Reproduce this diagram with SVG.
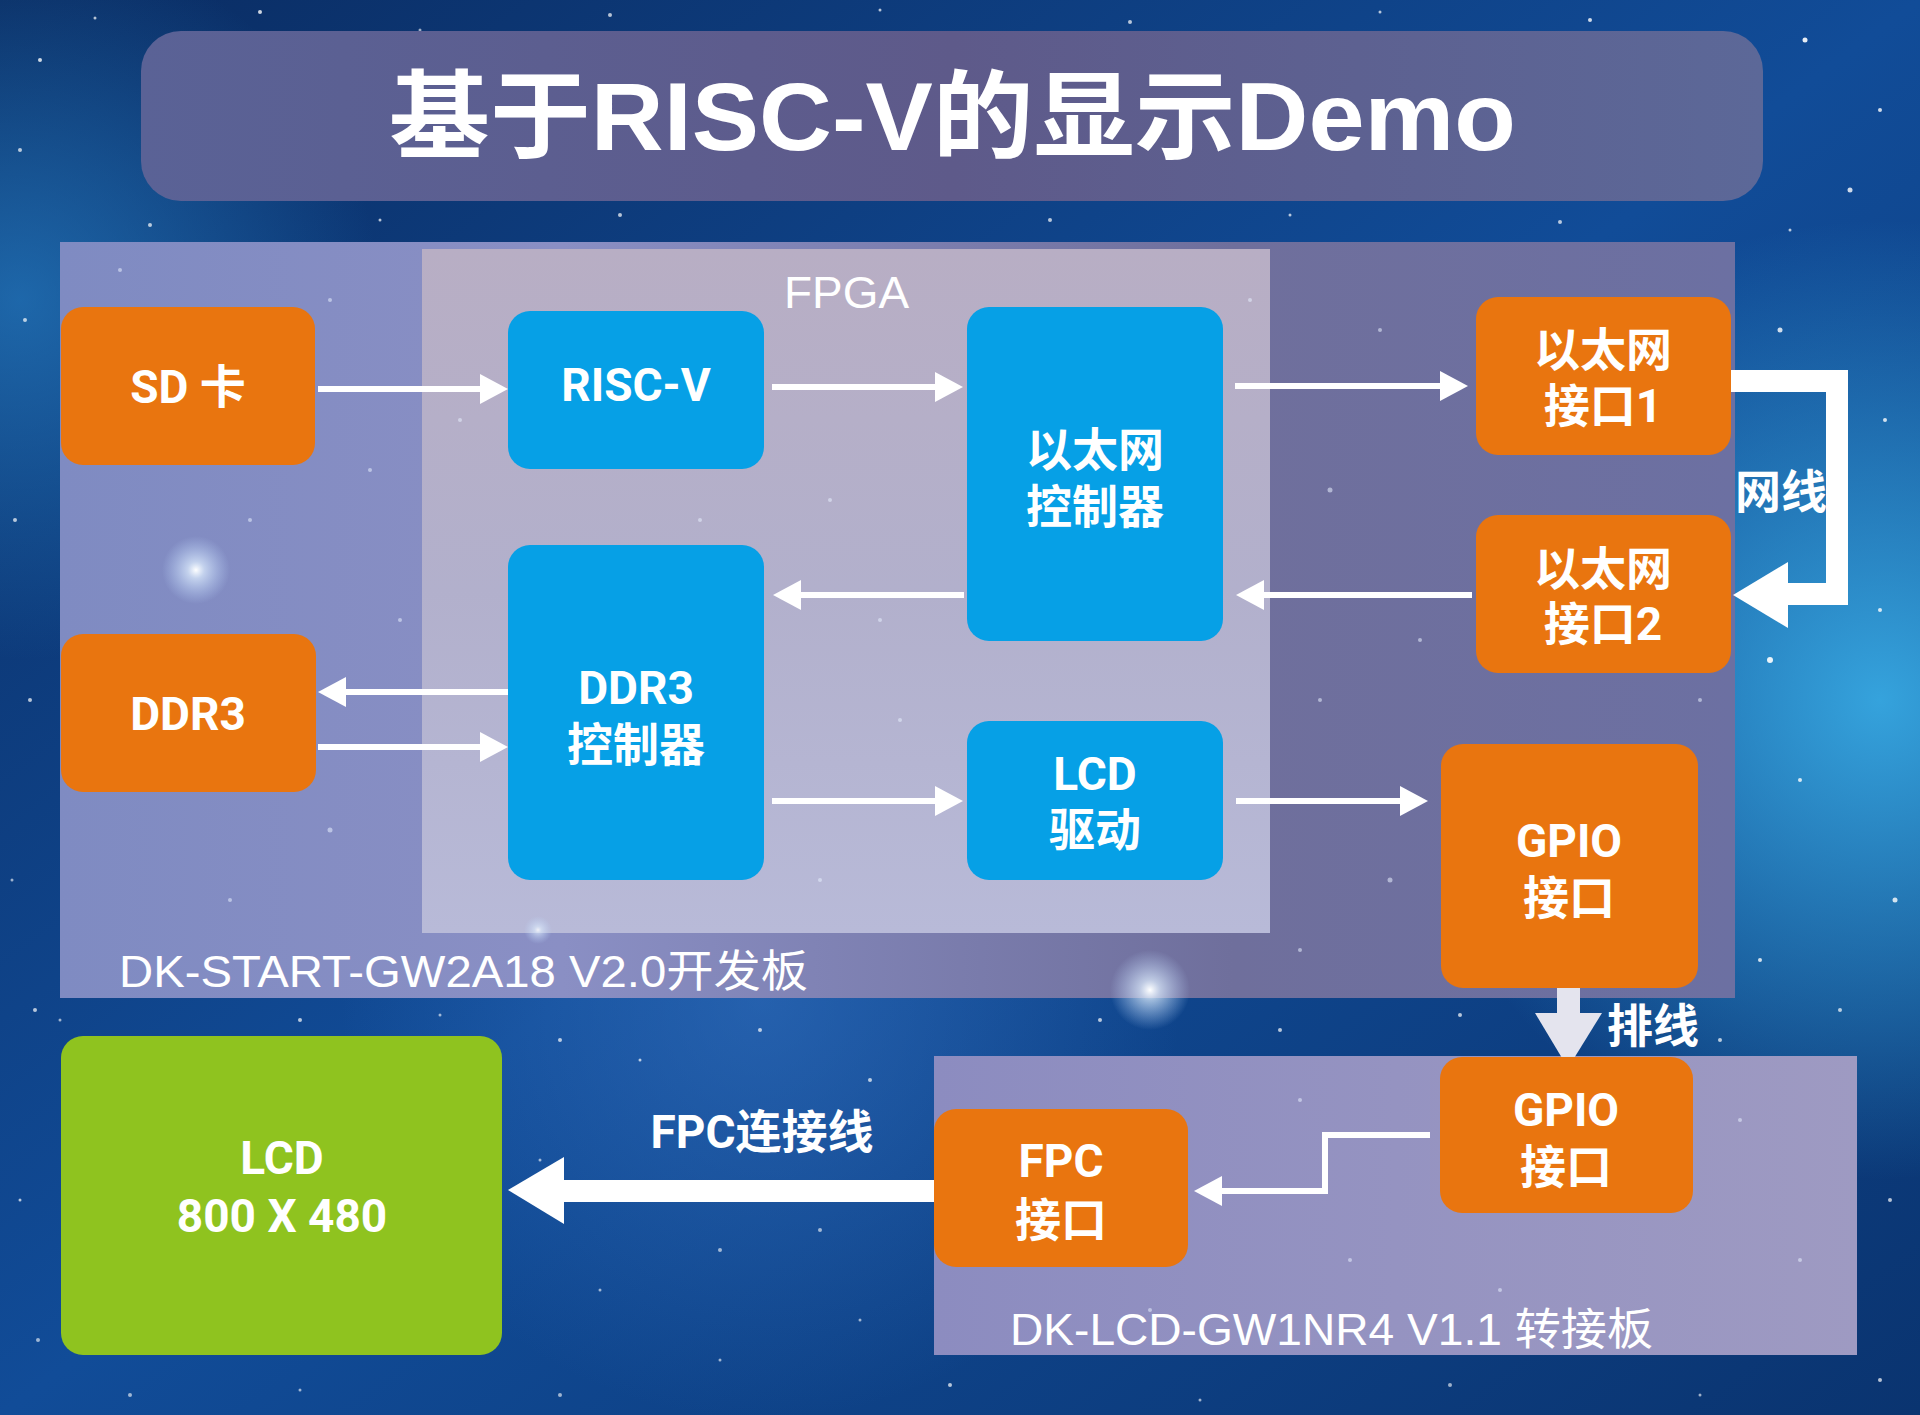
<svg xmlns="http://www.w3.org/2000/svg" width="1920" height="1415" viewBox="0 0 1920 1415">
<defs>
  <linearGradient id="bg" x1="0" y1="0" x2="1" y2="1">
    <stop offset="0" stop-color="#0a2c62"/>
    <stop offset="0.5" stop-color="#114c98"/>
    <stop offset="1" stop-color="#0a3470"/>
  </linearGradient>
  <radialGradient id="glowR" cx="1880" cy="700" r="480" gradientUnits="userSpaceOnUse">
    <stop offset="0" stop-color="#3cb4ec" stop-opacity="0.85"/>
    <stop offset="1" stop-color="#3cb4ec" stop-opacity="0"/>
  </radialGradient>
  <radialGradient id="glowL" cx="20" cy="300" r="360" gradientUnits="userSpaceOnUse">
    <stop offset="0" stop-color="#2a8ad2" stop-opacity="0.6"/>
    <stop offset="1" stop-color="#2a8ad2" stop-opacity="0"/>
  </radialGradient>
  <radialGradient id="glowC" cx="760" cy="1000" r="420" gradientUnits="userSpaceOnUse">
    <stop offset="0" stop-color="#3a78c8" stop-opacity="0.5"/>
    <stop offset="1" stop-color="#3a78c8" stop-opacity="0"/>
  </radialGradient>
  <linearGradient id="b1" x1="0" y1="0" x2="1" y2="0">
    <stop offset="0" stop-color="#7f8bc2"/>
    <stop offset="0.3" stop-color="#8a8fc4"/>
    <stop offset="0.7" stop-color="#6f6f9c"/>
    <stop offset="1" stop-color="#6c70a2"/>
  </linearGradient>
  <linearGradient id="fp" x1="0" y1="0" x2="0" y2="1">
    <stop offset="0" stop-color="#b8aec4"/>
    <stop offset="0.5" stop-color="#b2b0cc"/>
    <stop offset="1" stop-color="#b8bad8"/>
  </linearGradient>
  <linearGradient id="b2" x1="0" y1="0" x2="1" y2="0">
    <stop offset="0" stop-color="#8c8cc0"/>
    <stop offset="1" stop-color="#9e9ac2"/>
  </linearGradient>
  <linearGradient id="tb" x1="0" y1="0" x2="1" y2="0">
    <stop offset="0" stop-color="#5a6296"/>
    <stop offset="0.5" stop-color="#5e5a8a"/>
    <stop offset="1" stop-color="#5c6898"/>
  </linearGradient>
  <radialGradient id="spark" cx="0.5" cy="0.5" r="0.5">
    <stop offset="0" stop-color="#ffffff" stop-opacity="1"/>
    <stop offset="0.25" stop-color="#dfefff" stop-opacity="0.7"/>
    <stop offset="1" stop-color="#bcd8ff" stop-opacity="0"/>
  </radialGradient>
  <marker id="ah" viewBox="0 0 28 30" refX="8" refY="15" markerWidth="28" markerHeight="30" markerUnits="userSpaceOnUse" orient="auto">
    <path d="M0,0 L28,15 L0,30 Z" fill="#ffffff"/>
  </marker>
  <style>
    .orange { fill: #e9750f; }
    .blue { fill: #06a0e6; }
    .green { fill: #8fc31f; }
    .lbl { font-family: Roboto, "Noto Sans CJK SC", sans-serif; font-weight: 700; font-size: 46px; fill: #ffffff; text-anchor: middle; }
    .board { font-family: "Liberation Sans", "Noto Sans CJK SC", sans-serif; font-size: 44px; fill: #ffffff; }
    .thin { stroke: #ffffff; stroke-width: 6; fill: none; marker-end: url(#ah); }
    .star { fill: #ffffff; }
    .fstar { fill: #e8f0ff; opacity: 0.55; }
  </style>
</defs>

<!-- background -->
<rect x="0" y="0" width="1920" height="1415" fill="url(#bg)"/>
<rect x="0" y="0" width="1920" height="1415" fill="url(#glowR)"/>
<rect x="0" y="0" width="1920" height="1415" fill="url(#glowL)"/>
<rect x="0" y="0" width="1920" height="1415" fill="url(#glowC)"/>
<g id="stars" class="star">
  <circle cx="40" cy="60" r="2" opacity="0.8"/>
  <circle cx="95" cy="18" r="1.5" opacity="0.7"/>
  <circle cx="260" cy="12" r="2" opacity="0.8"/>
  <circle cx="420" cy="30" r="1.5" opacity="0.6"/>
  <circle cx="610" cy="15" r="2" opacity="0.7"/>
  <circle cx="880" cy="10" r="1.5" opacity="0.7"/>
  <circle cx="1130" cy="22" r="2" opacity="0.7"/>
  <circle cx="1380" cy="12" r="1.5" opacity="0.7"/>
  <circle cx="1590" cy="20" r="2" opacity="0.8"/>
  <circle cx="1805" cy="40" r="2.5" opacity="0.9"/>
  <circle cx="1880" cy="110" r="2" opacity="0.8"/>
  <circle cx="1850" cy="190" r="2.5" opacity="0.8"/>
  <circle cx="1790" cy="230" r="1.5" opacity="0.7"/>
  <circle cx="20" cy="150" r="2" opacity="0.7"/>
  <circle cx="25" cy="320" r="2" opacity="0.7"/>
  <circle cx="15" cy="520" r="2" opacity="0.7"/>
  <circle cx="30" cy="700" r="2" opacity="0.7"/>
  <circle cx="12" cy="880" r="1.5" opacity="0.6"/>
  <circle cx="35" cy="1010" r="2" opacity="0.7"/>
  <circle cx="20" cy="1200" r="1.5" opacity="0.7"/>
  <circle cx="38" cy="1340" r="2" opacity="0.6"/>
  <circle cx="1780" cy="330" r="2.5" opacity="0.8"/>
  <circle cx="1885" cy="420" r="2" opacity="0.8"/>
  <circle cx="1770" cy="660" r="3" opacity="0.9"/>
  <circle cx="1880" cy="610" r="2" opacity="0.8"/>
  <circle cx="1800" cy="780" r="2" opacity="0.8"/>
  <circle cx="1895" cy="900" r="2.5" opacity="0.8"/>
  <circle cx="1760" cy="960" r="2" opacity="0.8"/>
  <circle cx="1840" cy="1010" r="2" opacity="0.7"/>
  <circle cx="1890" cy="1200" r="2" opacity="0.7"/>
  <circle cx="1880" cy="1380" r="2" opacity="0.7"/>
  <circle cx="1700" cy="1395" r="1.5" opacity="0.6"/>
  <circle cx="1450" cy="1385" r="2" opacity="0.6"/>
  <circle cx="1200" cy="1400" r="1.5" opacity="0.6"/>
  <circle cx="950" cy="1385" r="2" opacity="0.7"/>
  <circle cx="720" cy="1360" r="1.5" opacity="0.6"/>
  <circle cx="560" cy="1395" r="2" opacity="0.6"/>
  <circle cx="300" cy="1390" r="1.5" opacity="0.6"/>
  <circle cx="130" cy="1395" r="2" opacity="0.6"/>
  <circle cx="560" cy="1040" r="2" opacity="0.7"/>
  <circle cx="640" cy="1060" r="1.5" opacity="0.7"/>
  <circle cx="760" cy="1030" r="2" opacity="0.7"/>
  <circle cx="870" cy="1080" r="2" opacity="0.7"/>
  <circle cx="720" cy="1250" r="2" opacity="0.6"/>
  <circle cx="600" cy="1290" r="1.5" opacity="0.6"/>
  <circle cx="820" cy="1230" r="2" opacity="0.6"/>
  <circle cx="860" cy="1320" r="1.5" opacity="0.6"/>
  <circle cx="540" cy="1160" r="1.5" opacity="0.6"/>
  <circle cx="1100" cy="1020" r="2" opacity="0.7"/>
  <circle cx="1280" cy="1030" r="2" opacity="0.7"/>
  <circle cx="1460" cy="1015" r="2" opacity="0.7"/>
  <circle cx="1720" cy="1040" r="2" opacity="0.7"/>
  <circle cx="60" cy="1020" r="1.5" opacity="0.6"/>
  <circle cx="300" cy="1020" r="2" opacity="0.7"/>
  <circle cx="440" cy="1015" r="1.5" opacity="0.6"/>
  <circle cx="150" cy="225" r="2" opacity="0.7"/>
  <circle cx="380" cy="220" r="1.5" opacity="0.7"/>
  <circle cx="620" cy="215" r="2" opacity="0.7"/>
  <circle cx="1050" cy="220" r="2" opacity="0.7"/>
  <circle cx="1290" cy="215" r="1.5" opacity="0.7"/>
  <circle cx="1560" cy="222" r="2" opacity="0.7"/>
</g>

<!-- title -->
<g id="title">
  <rect x="141" y="31" width="1622" height="170" rx="40" ry="40" fill="url(#tb)"/>
  <text x="389" y="150" textLength="1127" lengthAdjust="spacingAndGlyphs" font-family="Liberation Sans, Noto Sans CJK SC, sans-serif" font-weight="700" font-size="96" fill="#ffffff">基于RISC-V的显示Demo</text>
</g>

<!-- boards -->
<g id="board-start">
  <rect x="60" y="242" width="1675" height="756" fill="url(#b1)"/>
  <text class="board" x="119" y="987" textLength="689" lengthAdjust="spacingAndGlyphs">DK-START-GW2A18 V2.0开发板</text>
</g>
<g id="fpga">
  <rect x="422" y="249" width="848" height="684" fill="url(#fp)"/>
  <text x="784" y="308" font-family="Liberation Sans, sans-serif" font-size="44" fill="#ffffff" textLength="125" lengthAdjust="spacingAndGlyphs">FPGA</text>
</g>
<g id="board-lcd">
  <rect x="934" y="1056" width="923" height="299" fill="url(#b2)"/>
  <text class="board" x="1010" y="1345" textLength="643" lengthAdjust="spacingAndGlyphs">DK-LCD-GW1NR4 V1.1 转接板</text>
</g>
<g id="board-stars" class="fstar">
  <circle cx="120" cy="270" r="2"/>
  <circle cx="330" cy="300" r="2"/>
  <circle cx="250" cy="520" r="2"/>
  <circle cx="370" cy="470" r="2"/>
  <circle cx="95" cy="760" r="2"/>
  <circle cx="330" cy="830" r="2.5"/>
  <circle cx="230" cy="900" r="2"/>
  <circle cx="400" cy="620" r="2"/>
  <circle cx="460" cy="420" r="2"/>
  <circle cx="830" cy="500" r="2"/>
  <circle cx="880" cy="620" r="2"/>
  <circle cx="700" cy="520" r="2"/>
  <circle cx="820" cy="880" r="2"/>
  <circle cx="900" cy="720" r="2"/>
  <circle cx="1250" cy="300" r="2"/>
  <circle cx="1380" cy="330" r="2"/>
  <circle cx="1330" cy="490" r="2.5"/>
  <circle cx="1420" cy="640" r="2"/>
  <circle cx="1320" cy="700" r="2"/>
  <circle cx="1390" cy="880" r="2.5"/>
  <circle cx="1300" cy="950" r="2"/>
  <circle cx="1700" cy="700" r="2"/>
  <circle cx="1020" cy="1150" r="2"/>
  <circle cx="1300" cy="1100" r="2"/>
  <circle cx="1350" cy="1260" r="2"/>
  <circle cx="1500" cy="1290" r="2"/>
  <circle cx="1740" cy="1120" r="2"/>
  <circle cx="1800" cy="1260" r="2"/>
  <circle cx="1150" cy="1310" r="2"/>
</g>
<circle cx="196" cy="570" r="34" fill="url(#spark)"/>
<circle cx="1150" cy="990" r="40" fill="url(#spark)"/>
<circle cx="538" cy="930" r="14" fill="url(#spark)" opacity="0.8"/>

<!-- connectors -->
<g id="connectors">
  <line class="thin" x1="318" y1="389" x2="488" y2="389"/>
  <line class="thin" x1="772" y1="387" x2="943" y2="387"/>
  <line class="thin" x1="1235" y1="386" x2="1448" y2="386"/>
  <line class="thin" x1="1472" y1="595" x2="1256" y2="595"/>
  <line class="thin" x1="964" y1="595" x2="793" y2="595"/>
  <line class="thin" x1="508" y1="692" x2="338" y2="692"/>
  <line class="thin" x1="318" y1="747" x2="488" y2="747"/>
  <line class="thin" x1="772" y1="801" x2="943" y2="801"/>
  <line class="thin" x1="1236" y1="801" x2="1408" y2="801"/>
  <polyline class="thin" points="1430,1135 1325,1135 1325,1191 1214,1191"/>
  <!-- 网线 -->
  <polyline points="1731,381 1837,381 1837,594 1787,594" fill="none" stroke="#ffffff" stroke-width="22" stroke-linejoin="miter"/>
  <polygon points="1788,562 1788,628 1733,595" fill="#ffffff"/>
  <!-- 排线 -->
  <rect x="1557" y="987" width="23" height="28" fill="#e4e4ee"/>
  <polygon points="1535,1013 1602,1013 1568,1068" fill="#e4e4ee"/>
  <!-- FPC连接线 -->
  <rect x="560" y="1180" width="374" height="22" fill="#ffffff"/>
  <polygon points="564,1157 564,1224 508,1190" fill="#ffffff"/>
  <text class="lbl" x="1781" y="508">网线</text>
  <text class="lbl" x="1653" y="1042">排线</text>
  <text class="lbl" x="762" y="1148">FPC连接线</text>
</g>

<!-- nodes -->
<g id="n-sd">
  <rect class="orange" x="61" y="307" width="254" height="158" rx="22"/>
  <text class="lbl" x="188" y="403">SD 卡</text>
</g>
<g id="n-riscv">
  <rect class="blue" x="508" y="311" width="256" height="158" rx="22"/>
  <text class="lbl" x="636" y="401">RISC-V</text>
</g>
<g id="n-ethctrl">
  <rect class="blue" x="967" y="307" width="256" height="334" rx="22"/>
  <text class="lbl"><tspan x="1095" y="466">以太网</tspan><tspan x="1095" y="523">控制器</tspan></text>
</g>
<g id="n-ddrctrl">
  <rect class="blue" x="508" y="545" width="256" height="335" rx="22"/>
  <text class="lbl"><tspan x="636" y="704">DDR3</tspan><tspan x="636" y="761">控制器</tspan></text>
</g>
<g id="n-ddr3">
  <rect class="orange" x="61" y="634" width="255" height="158" rx="22"/>
  <text class="lbl" x="188" y="730">DDR3</text>
</g>
<g id="n-lcddrv">
  <rect class="blue" x="967" y="721" width="256" height="159" rx="22"/>
  <text class="lbl"><tspan x="1095" y="790">LCD</tspan><tspan x="1095" y="846">驱动</tspan></text>
</g>
<g id="n-eth1">
  <rect class="orange" x="1476" y="297" width="255" height="158" rx="22"/>
  <text class="lbl"><tspan x="1603" y="366">以太网</tspan><tspan x="1603" y="422">接口1</tspan></text>
</g>
<g id="n-eth2">
  <rect class="orange" x="1476" y="515" width="255" height="158" rx="22"/>
  <text class="lbl"><tspan x="1603" y="585">以太网</tspan><tspan x="1603" y="640">接口2</tspan></text>
</g>
<g id="n-gpio1">
  <rect class="orange" x="1441" y="744" width="257" height="244" rx="22"/>
  <text class="lbl"><tspan x="1569" y="857">GPIO</tspan><tspan x="1569" y="914">接口</tspan></text>
</g>
<g id="n-gpio2">
  <rect class="orange" x="1440" y="1057" width="253" height="156" rx="22"/>
  <text class="lbl"><tspan x="1566" y="1126">GPIO</tspan><tspan x="1566" y="1183">接口</tspan></text>
</g>
<g id="n-fpc">
  <rect class="orange" x="934" y="1109" width="254" height="158" rx="22"/>
  <text class="lbl"><tspan x="1061" y="1177">FPC</tspan><tspan x="1061" y="1236">接口</tspan></text>
</g>
<g id="n-lcd">
  <rect class="green" x="61" y="1036" width="441" height="319" rx="22"/>
  <text class="lbl"><tspan x="282" y="1174">LCD</tspan><tspan x="282" y="1232">800 X 480</tspan></text>
</g>
</svg>
